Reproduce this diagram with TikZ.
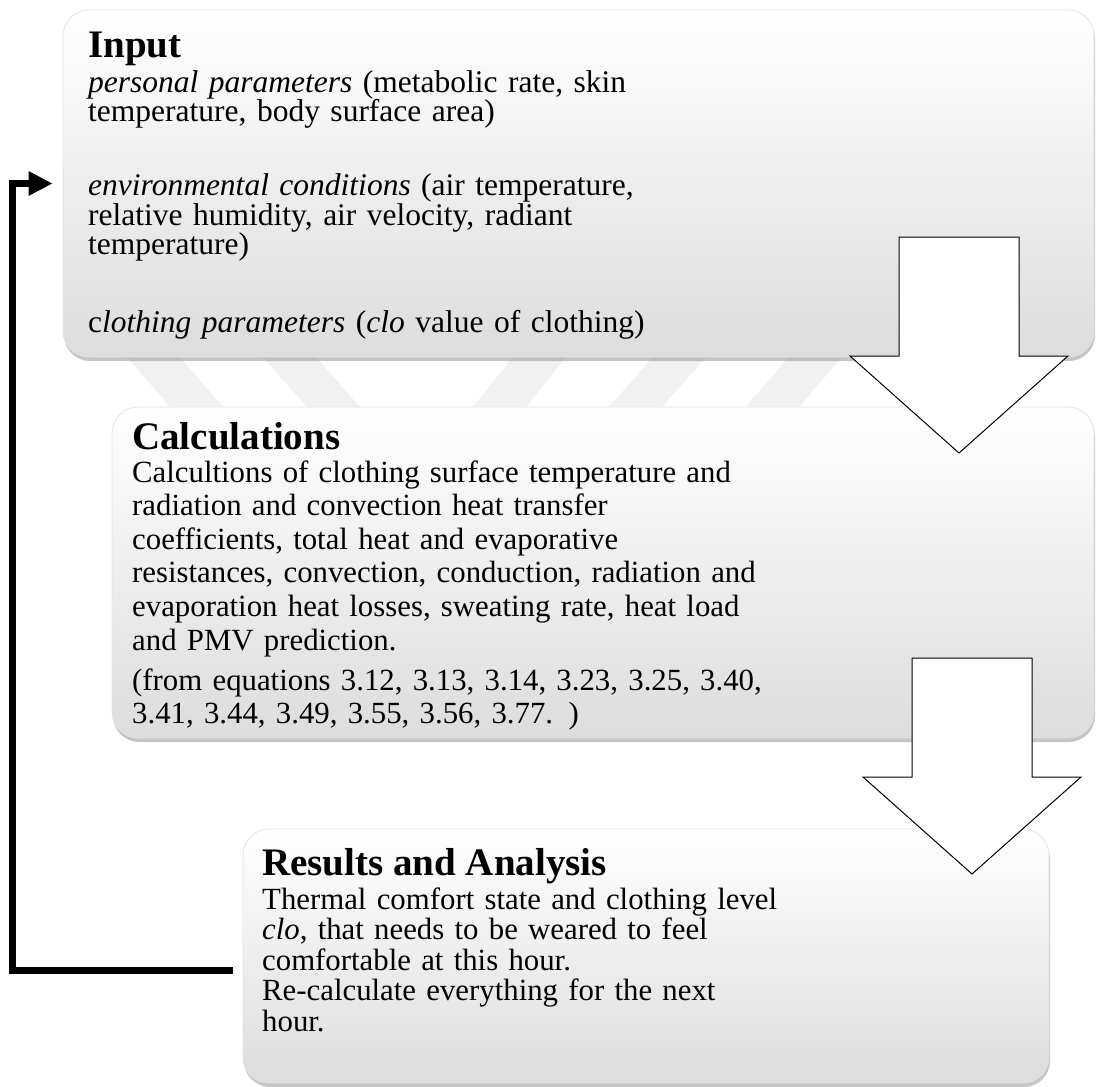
\documentclass[tikz,border=0pt]{standalone}
\usepackage{fontspec}
\setmainfont{Liberation Serif}
\usetikzlibrary{shadows,arrows.meta}
\setlength{\lineskiplimit}{-100pt}

\begin{document}
\begin{tikzpicture}
        [x=1pt,y=-1pt,
        box/.style={draw=gray!22,line width=0.8pt,rounded corners=26pt,inner sep=0pt,
          top color=white,bottom color=gray!27,
          drop shadow={shadow xshift=1pt,shadow yshift=-4pt,opacity=0.45}},
        heading/.style={anchor=base west,inner sep=0pt,font=\bfseries\fontsize{39}{42}\selectfont},
        body/.style={anchor=base west,inner sep=0pt,text width=#1,align=left},
        blockarrow/.style={draw=black,fill=white,line width=1pt,line join=miter},
        loopline/.style={line width=7pt,-{Triangle[length=24pt,width=23pt]}},
        stripe/.style={fill=gray!11}]
        \useasboundingbox[fill=white] (0,0) rectangle (1096,1087);
        % stripes behind the first gap
        \foreach \a/\b in {127/43,263/44,513/-40,653/-44,789/-43}
          \fill[stripe] (\a,357) -- ++(53,0) -- ++(\b,50) -- ++(-53,0) -- cycle;
        \node[box,minimum width=1031pt,minimum height=347pt] (input) at (578.5,183.5) {};
        \node[box,minimum width=982pt,minimum height=331pt] (calc) at (603,572.5) {};
        \node[box,minimum width=806pt,minimum height=254pt] (res) at (646,956) {};
        \node[heading] (inhead) at (88,57) {Input};
        \node[body=760pt,font=\fontsize{31.5}{27.5}\selectfont] (inbody) at (88,92)
          {\textit{personal parameters} (metabolic rate, skin\\
           temperature, body surface area)\\[44pt]
           \textit{environmental conditions} (air temperature,\\
           relative humidity, air velocity, radiant\\
           temperature)\\[48pt]
           c\textit{lothing parameters} (\textit{clo} value of clothing)};
        \node[heading] (calchead) at (132,449) {Calculations};
        \node[body=760pt,font=\fontsize{30.8}{33.6}\selectfont] (calcbody) at (132,482)
          {Calcultions of clothing surface temperature and\\
           radiation and convection heat transfer\\
           coefficients, total heat and evaporative\\
           resistances, convection, conduction, radiation and\\
           evaporation heat losses, sweating rate, heat load\\
           and PMV prediction.\\[6.4pt]
           (from equations 3.12, 3.13, 3.14, 3.23, 3.25, 3.40,\\
           3.41, 3.44, 3.49, 3.55, 3.56, 3.77. )};
        \node[heading] (reshead) at (262,875) {Results and Analysis};
        \node[body=700pt,font=\fontsize{30.8}{30.5}\selectfont] (resbody) at (262,909)
          {Thermal comfort state and clothing level\\
           \textit{clo}, that needs to be weared to feel\\
           comfortable at this hour.\\
           Re-calculate everything for the next\\
           hour.};
        % feedback loop
        \draw[loopline] ([xshift=-10pt,yshift=-14pt]res.west) -| ([xshift=-50pt]input.west)
          -- ([xshift=-10pt]input.west);
        % block arrows
        \coordinate (arrowone) at (959,237);
        \coordinate (arrowtwo) at (972,658);
        \draw[blockarrow] (arrowone) ++(-60,0) -- ++(120,0) -- ++(0,119) -- ++(49,0)
          -- ++(-109,97) -- ++(-109,-97) -- ++(49,0) -- cycle;
        \draw[blockarrow] (arrowtwo) ++(-60,0) -- ++(120,0) -- ++(0,119) -- ++(49,0)
          -- ++(-109,97) -- ++(-109,-97) -- ++(49,0) -- cycle;
      \end{tikzpicture}
\end{document}
